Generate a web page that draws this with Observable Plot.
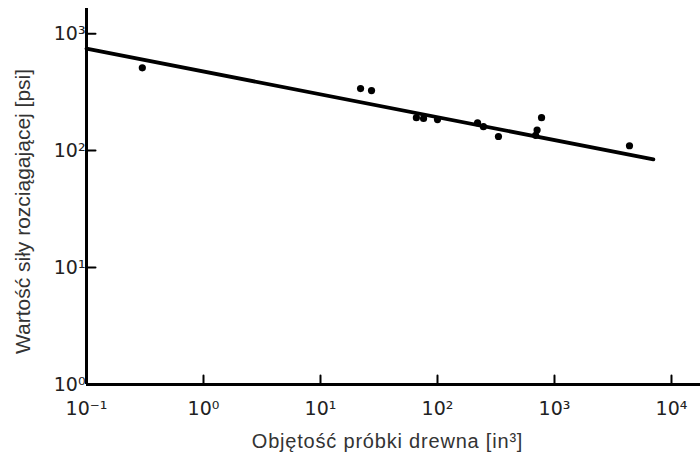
<!DOCTYPE html>
<html>
<head>
<meta charset="utf-8">
<script src="https://cdn.jsdelivr.net/npm/d3@7"></script>
<script src="https://cdn.jsdelivr.net/npm/@observablehq/plot@0.6"></script>
<style>
  html, body { margin: 0; padding: 0; background: #fff; }
</style>
</head>
<body>
<div id="chart"></div>
<script>
// Data (log-log)
const volume = [0.3, 22, 27.3, 66, 76, 100, 220, 247, 332, 690, 710, 775, 4375]; // in^3
const strength = [510, 339, 326, 191, 188, 184, 173, 160, 132, 135, 150, 191, 110]; // psi
const fitX = [0.1, 7000];
const fitY = [745, 84];
const xTicks = [0.1, 1, 10, 100, 1000, 10000];
const xTickLabels = ["10⁻¹", "10⁰", "10¹", "10²", "10³", "10⁴"];
const yTicks = [1, 10, 100, 1000];
const yTickLabels = ["10⁰", "10¹", "10²", "10³"];
const xLabel = "Objętość próbki drewna [in³]";
const yLabel = "Wartość siły rozciągającej [psi]";

const points = volume.map((v, i) => ({x: v, y: strength[i]}));
const fit = fitX.map((v, i) => ({x: v, y: fitY[i]}));

const tickFont = "DejaVu Sans";
const chart = Plot.plot({
  width: 700,
  height: 457,
  marginLeft: 86,
  marginRight: 0,
  marginTop: 8,
  marginBottom: 73,
  style: {background: "#fff", fontFamily: "Liberation Sans, Arial, sans-serif"},
  x: {type: "log", domain: [0.1, 17700]},
  y: {type: "log", domain: [1, 1640]},
  marks: [
    // inward tick marks
    Plot.vector(xTicks.slice(1), {x: d => d, frameAnchor: "bottom", length: 9, rotate: 0, anchor: "start", shape: "spike", r: 0, stroke: "black", strokeWidth: 2}),
    Plot.vector(yTicks.slice(1), {y: d => d, frameAnchor: "left", length: 9, rotate: 90, anchor: "start", shape: "spike", r: 0, stroke: "black", strokeWidth: 2}),
    // tick labels
    Plot.axisX(xTicks, {tickSize: 0, tickPadding: 17, tickFormat: d => xTickLabels[xTicks.indexOf(d)], fontSize: 19, fontFamily: tickFont, fill: "#222", label: null}),
    Plot.axisY(yTicks, {tickSize: 0, tickPadding: 1, tickFormat: d => yTickLabels[yTicks.indexOf(d)], fontSize: 19, fontFamily: tickFont, fill: "#222", label: null}),
    // axis lines
    Plot.ruleX([0.1], {strokeWidth: 3}),
    Plot.ruleY([1], {strokeWidth: 3}),
    // fit line
    Plot.line(fit, {x: "x", y: "y", stroke: "black", strokeWidth: 3.8}),
    // data points
    Plot.dot(points, {x: "x", y: "y", r: 3.6, fill: "black"}),
    // axis titles
    Plot.text([xLabel], {frameAnchor: "bottom", dy: 57, dx: -6, text: d => d, fontSize: 20, fill: "#333", lineAnchor: "middle", textAnchor: "middle"}),
    Plot.text([yLabel], {frameAnchor: "left", dx: -63, dy: 15, rotate: -90, text: d => d, fontSize: 21, fill: "#333", lineAnchor: "middle", textAnchor: "middle"})
  ]
});
d3.select(chart).selectAll("text").filter(function() { return this.textContent === xLabel; }).attr("letter-spacing", "0.8");
document.getElementById("chart").appendChild(chart);
</script>
</body>
</html>
